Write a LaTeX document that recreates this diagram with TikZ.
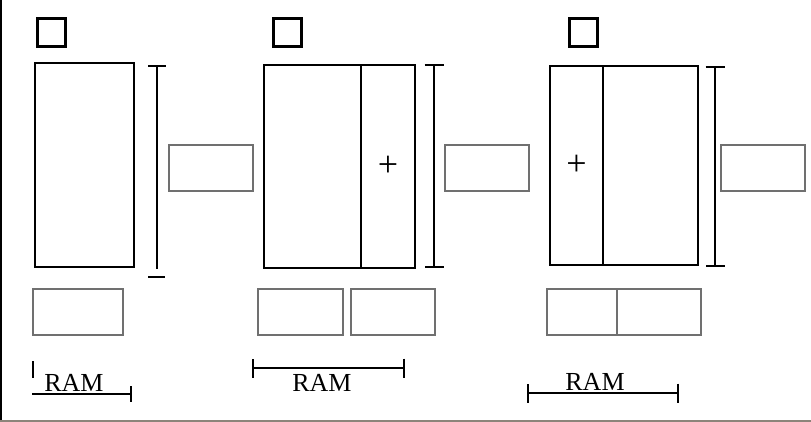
\documentclass[tikz,border=0pt]{standalone}
\usepackage{fontspec}
\setmainfont{Liberation Serif}
\usetikzlibrary{positioning, arrows.meta}
\definecolor{framegray}{HTML}{8C847A}
\definecolor{slotgray}{HTML}{707070}
\tikzstyle{cell}=[draw, line width=1.8pt, inner sep=0, outer sep=0, anchor=north west, font=\fontsize{36}{40}\selectfont]
\tikzstyle{slot}=[draw=slotgray, line width=1.1pt, inner sep=0, outer sep=0, minimum height=46pt, anchor=north west]
\tikzstyle{tag}=[draw, line width=2.8pt, minimum size=28pt, inner sep=0, anchor=north west]
\tikzstyle{ramtext}=[font=\fontsize{26}{30}\selectfont, inner sep=0, anchor=base]
\tikzstyle{dimline}=[line width=1.8pt]
\tikzstyle{barred}=[line width=1.8pt, {Bar[width=19pt]}-{Bar[width=19pt]}]

\begin{document}
\begin{tikzpicture}[x=1pt, y=-1pt]
\useasboundingbox (0,0) rectangle (811,422);
\draw[line width=2pt] (1,0) -- (1,422);
\draw[framegray, line width=2pt] (0,421) -- (811,421);

% first layout
\node[tag] (t1) at (36,17) {};
\node[cell, minimum width=99pt, minimum height=204pt] (m1) at (35,63) {};
\coordinate (d1t) at (157,65);
\coordinate (d1b) at (157,269);
\draw[dimline, {Bar[width=18pt]}-] (d1t) -- (d1b);
\draw[dimline] (148,277) -- (165,277);
\node[slot, minimum width=84pt] (s1) at (169,145) {};
\node[slot, minimum width=90pt] (b1) at (33,289) {};
\coordinate (r1a) at (32,394);
\coordinate (r1b) at (132,394);
\draw[dimline] (33,361) -- (33,378);
\draw[dimline, -{Bar[width=16pt]}] (r1a) -- (r1b);
\node[ramtext] (ram1) at (74,391) {RAM};

% second layout
\node[tag] (t2) at (272,17) {};
\node[cell, minimum width=97pt, minimum height=203pt] (m2a) at (264,65) {};
\node[cell, minimum width=54pt, minimum height=203pt, right=0pt of m2a.north east, anchor=north west] (m2b) {+};
\coordinate (d2t) at (434,64);
\coordinate (d2b) at (434,268);
\draw[barred] (d2t) -- (d2b);
\node[slot, minimum width=84pt] (s2) at (445,145) {};
\node[slot, minimum width=85pt] (b2a) at (258,289) {};
\node[slot, minimum width=84pt] (b2b) at (351,289) {};
\coordinate (r2a) at (252,368);
\coordinate (r2b) at (405,368);
\draw[barred] (r2a) -- (r2b);
\node[ramtext] (ram2) at (322,391) {RAM};

% third layout
\node[tag] (t3) at (568,17) {};
\node[cell, minimum width=53pt, minimum height=199pt] (m3a) at (550,66) {+};
\node[cell, minimum width=95pt, minimum height=199pt, right=0pt of m3a.north east, anchor=north west] (m3b) {};
\coordinate (d3t) at (715,66);
\coordinate (d3b) at (715,267);
\draw[barred] (d3t) -- (d3b);
\node[slot, minimum width=84pt] (s3) at (721,145) {};
\node[slot, minimum width=70pt] (b3a) at (547,289) {};
\node[slot, minimum width=84pt, right=0pt of b3a.north east, anchor=north west] (b3b) {};
\coordinate (r3a) at (527,393);
\coordinate (r3b) at (679,393);
\draw[barred] (r3a) -- (r3b);
\node[ramtext] (ram3) at (595,390) {RAM};
\end{tikzpicture}
\end{document}
